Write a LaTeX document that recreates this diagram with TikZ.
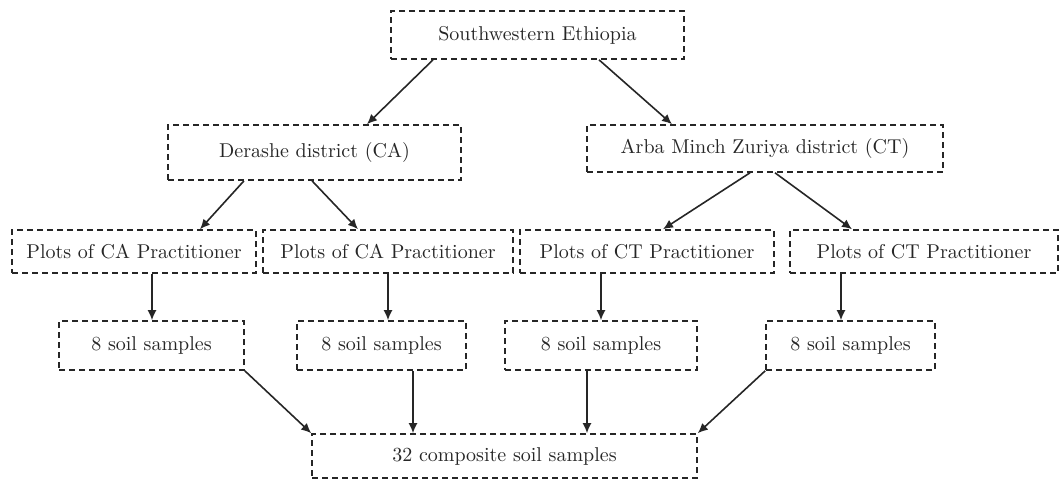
\documentclass[tikz,border=0pt]{standalone}
\usetikzlibrary{arrows.meta}

\begin{document}
\begin{tikzpicture}[x=0.5pt,y=-0.5pt,
  blk/.style={draw=black!85,text=black!85,dash pattern=on 3pt off 2pt,line width=0.8pt,inner sep=0pt},
  every edge/.style={draw=black!85,line width=0.8pt},
  >={Latex[length=5pt,width=4.5pt]}]
  \useasboundingbox (0,0) rectangle (1061,479);
  \node(se)[blk,minimum width=146.5pt,minimum height=24pt] at (537.5,35) {Southwestern Ethiopia};
  \node(der)[blk,minimum width=146.5pt,minimum height=27.5pt] at (314.5,152.5) {Derashe district (CA)};
  \node(amz)[blk,minimum width=178pt,minimum height=23.5pt] at (765,148.5) {Arba Minch Zuriya district (CT)};
  \node(pca1)[blk,minimum width=122pt,minimum height=21.5pt] at (134,251.5) {Plots of CA Practitioner};
  \node(pca2)[blk,minimum width=125pt,minimum height=21.5pt] at (388,251.5) {Plots of CA Practitioner};
  \node(pct1)[blk,minimum width=127pt,minimum height=21.5pt] at (647,251.5) {Plots of CT Practitioner};
  \node(pct2)[blk,minimum width=134pt,minimum height=21.5pt] at (924,251.5) {Plots of CT Practitioner};
  \node(s1)[blk,minimum width=92.5pt,minimum height=24.5pt] at (151.5,345.5) {8 soil samples};
  \node(s2)[blk,minimum width=84.5pt,minimum height=24.5pt] at (381.5,345.5) {8 soil samples};
  \node(s3)[blk,minimum width=96pt,minimum height=24.5pt] at (601,345.5) {8 soil samples};
  \node(s4)[blk,minimum width=84.5pt,minimum height=24.5pt] at (850.5,345.5) {8 soil samples};
  \node(comp)[blk,minimum width=192.5pt,minimum height=22pt] at (504.5,456) {32 composite soil samples};
  \path[->]
    ([xshift=-52.25pt]se.south) edge ([xshift=26.25pt]der.north)
    ([xshift=30.75pt]se.south) edge ([xshift=-46.5pt]amz.north)
    ([xshift=-35.25pt]der.south) edge ([xshift=33pt]pca1.north)
    ([xshift=-1.25pt]der.south) edge ([xshift=-15pt]pca2.north)
    ([xshift=-7.5pt]amz.south) edge ([xshift=8pt]pct1.north)
    ([xshift=5pt]amz.south) edge ([xshift=-36pt]pct2.north)
    ([xshift=0.25pt]s1.north |- pca1.south) edge ([xshift=0.25pt]s1.north)
    (pca2.south) edge (pca2.south |- s2.north)
    (s3.north |- pct1.south) edge (s3.north)
    ([xshift=-4.75pt]s4.north |- pct2.south) edge ([xshift=-4.75pt]s4.north)
    (s1.south east) edge (comp.north west)
    ([xshift=15.75pt]s2.south) edge ([xshift=15.75pt]s2.south |- comp.north)
    ([xshift=-7pt]s3.south) edge ([xshift=-7pt]s3.south |- comp.north)
    (s4.south west) edge (comp.north east);
\end{tikzpicture}
\end{document}
